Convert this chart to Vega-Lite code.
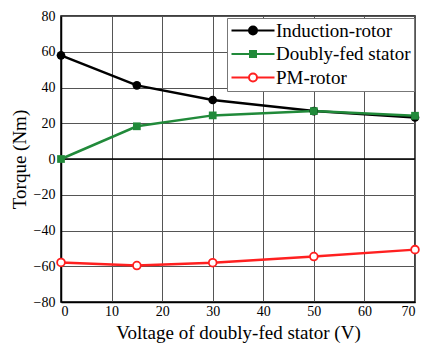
{
  "$schema": "https://vega.github.io/schema/vega-lite/v6.json",
  "width": 354,
  "height": 286,
  "autosize": {"type": "none"},
  "padding": {"left": 61, "top": 16, "right": 9, "bottom": 48},
  "background": "white",
  "config": {
    "font": "Liberation Serif, serif",
    "view": {"stroke": "black", "strokeWidth": 1.5},
    "axis": {
      "labelFont": "Liberation Serif, serif",
      "titleFont": "Liberation Serif, serif",
      "labelFontSize": 14,
      "titleFontSize": 19,
      "titleFontWeight": "normal",
      "labelColor": "black",
      "titleColor": "black",
      "domainColor": "black",
      "domainWidth": 1.5,
      "gridColor": "#555555",
      "gridOpacity": 1,
      "gridWidth": 1,
      "ticks": false
    },
    "legend": {"labelFont": "Liberation Serif, serif"}
  },
  "data": {
    "values": [
      {"v": 0, "s": "Induction-rotor", "t": 58},
      {"v": 15, "s": "Induction-rotor", "t": 41.2},
      {"v": 30, "s": "Induction-rotor", "t": 33},
      {"v": 50, "s": "Induction-rotor", "t": 26.8},
      {"v": 70, "s": "Induction-rotor", "t": 23.2},
      {"v": 0, "s": "Doubly-fed stator", "t": 0},
      {"v": 15, "s": "Doubly-fed stator", "t": 18.3},
      {"v": 30, "s": "Doubly-fed stator", "t": 24.4},
      {"v": 50, "s": "Doubly-fed stator", "t": 26.8},
      {"v": 70, "s": "Doubly-fed stator", "t": 24.2},
      {"v": 0, "s": "PM-rotor", "t": -57.9},
      {"v": 15, "s": "PM-rotor", "t": -59.6},
      {"v": 30, "s": "PM-rotor", "t": -58},
      {"v": 50, "s": "PM-rotor", "t": -54.6},
      {"v": 70, "s": "PM-rotor", "t": -50.7}
    ]
  },
  "encoding": {
    "x": {
      "field": "v", "type": "quantitative",
      "scale": {"domain": [0, 70], "nice": false, "zero": false},
      "axis": {"values": [0,10,20,30,40,50,60,70], "title": "Voltage of doubly-fed stator (V)", "labelPadding": 2, "titlePadding": 5}
    },
    "y": {
      "field": "t", "type": "quantitative",
      "scale": {"domain": [-80, 80], "nice": false},
      "axis": {"values": [-80,-60,-40,-20,0,20,40,60,80], "title": "Torque (Nm)", "labelPadding": 6, "titlePadding": 4}
    }
  },
  "layer": [
    {
      "mark": {"type": "rule", "color": "black", "strokeWidth": 1.5},
      "data": {"values": [{"z": 0}]},
      "encoding": {"y": {"field": "z", "type": "quantitative"}, "x": null}
    },
    {
      "mark": {"type": "line", "strokeWidth": 2.5},
      "encoding": {
        "color": {
          "field": "s", "type": "nominal",
          "scale": {"domain": ["Induction-rotor", "Doubly-fed stator", "PM-rotor"], "range": ["#000000", "#218a3a", "#ff2020"]},
          "legend": {
            "title": null,
            "orient": "none",
            "legendX": 166,
            "legendY": 2,
            "padding": 3,
            "fillColor": "white",
            "strokeColor": "#777777",
            "labelFontSize": 19,
            "labelColor": "black",
            "symbolSize": 100,
            "symbolOffset": 13.5,
            "labelOffset": 13.5,
            "rowPadding": 3.5,
            "encode": {
              "symbols": {
                "update": {
                  "shape": {"signal": "datum.value === 'Doubly-fed stator' ? 'M-4.3,0H4.3M-0.6,-0.6H0.6V0.6H-0.6Z' : 'M-4.3,0H-0.8M0.8,0H4.3M0.8,0A0.8,0.8 0 1,1 -0.8,0A0.8,0.8 0 1,1 0.8,0Z'"},
                  "fill": {"signal": "datum.value === 'Induction-rotor' ? '#000000' : datum.value === 'Doubly-fed stator' ? '#218a3a' : '#ffffff'"},
                  "stroke": {"signal": "datum.value === 'Induction-rotor' ? '#000000' : datum.value === 'Doubly-fed stator' ? '#218a3a' : '#ff2020'"},
                  "strokeWidth": {"value": 2},
                  "opacity": {"value": 1}
                }
              }
            }
          }
        }
      }
    },
    {
      "transform": [{"filter": "datum.s === 'Induction-rotor'"}],
      "mark": {"type": "point", "shape": "circle", "filled": true, "color": "#000000", "size": 75, "opacity": 1}
    },
    {
      "transform": [{"filter": "datum.s === 'Doubly-fed stator'"}],
      "mark": {"type": "point", "shape": "square", "filled": true, "color": "#218a3a", "size": 60, "opacity": 1}
    },
    {
      "transform": [{"filter": "datum.s === 'PM-rotor'"}],
      "mark": {"type": "point", "shape": "circle", "filled": false, "fill": "#ffffff", "fillOpacity": 1, "stroke": "#ff2020", "strokeWidth": 1.8, "size": 60, "opacity": 1}
    }
  ]
}
